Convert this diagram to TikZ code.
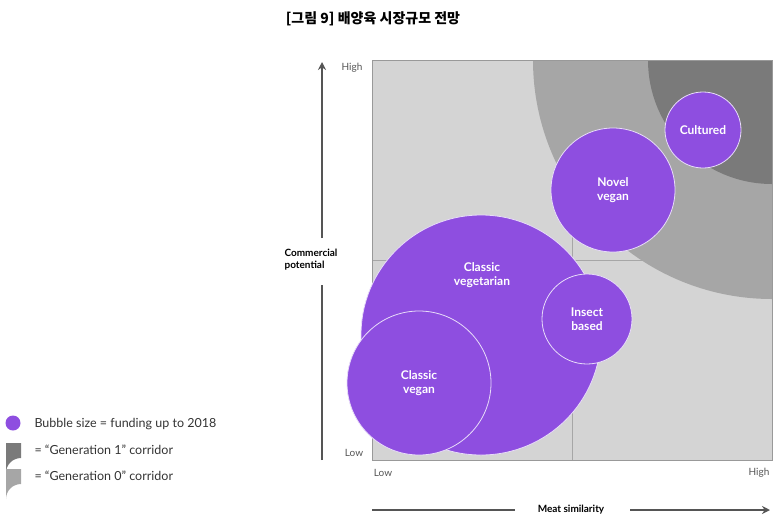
\documentclass[tikz,border=0pt]{standalone}
\usepackage{fontspec}
\setmainfont{Lato}
\newfontfamily\kr{Noto Sans CJK KR}
\usetikzlibrary{arrows.meta}
\definecolor{purp}{HTML}{8E4EE0}
\definecolor{bg}{HTML}{D4D4D4}
\definecolor{gzero}{HTML}{A6A6A6}
\definecolor{gone}{HTML}{7A7A7A}
\definecolor{axis}{HTML}{555555}
\begin{document}
\begin{tikzpicture}[x=1pt,y=-1pt,
  bub/.style={circle,fill=purp,draw=white!80!purp,line width=0.8pt,inner sep=0pt,minimum size=#1,align=center,text=white,font=\bfseries\fontsize{12}{14}\selectfont},
  tick/.style={text=axis,font=\fontsize{10}{12}\selectfont},
  arr/.style={axis,line width=1.6pt,-{Stealth[length=8pt,width=8pt]}},
  leg/.style={anchor=west,font=\fontsize{12.5}{14}\selectfont,text=black!80}]
\useasboundingbox (0,0) rectangle (781,523);
\node[font=\kr\bfseries\fontsize{14}{16}\selectfont] (title) at (373,19) {[그림 9] 배양육 시장규모 전망};
% plot background
\begin{scope}
\clip (372,60) rectangle (772,460);
\fill[bg] (372,60) rectangle (772,460);
\draw[gray!70,line width=0.6pt] (572,60) -- (572,460) (372,260) -- (772,260);
\fill[gzero] (772,60) circle[radius=239];
\fill[gone] (772,60) circle[radius=124];
\end{scope}
\draw[gray!80,line width=0.6pt] (372,60) rectangle (772,460);
% bubbles
\node[bub=240] (cveg) at (481,335) {};
\node[font=\bfseries\fontsize{12}{14}\selectfont,text=white,align=center] (cvegt) at (482,275) {Classic\\vegetarian};
\node[bub=144] (cvgn) at (419,383) {Classic\\vegan};
\node[bub=90] (ins) at (587,319) {Insect\\based};
\node[bub=124] (nov) at (613,190) {Novel\\vegan};
\node[bub=76] (cul) at (703,130) {Cultured};
% axes
\coordinate (ybot) at (322,460);
\coordinate (ytop) at (322,62);
\node[font=\bfseries\fontsize{10}{12}\selectfont,align=left] (ylab) at (311,260) {Commercial\\potential};
\draw[axis,line width=1.6pt] (ybot) -- (322,285);
\draw[arr] (322,238) -- (ytop);
\node[tick] (yhigh) at (352,68) {High};
\node[tick] (ylow) at (354,453) {Low};
\node[tick] (xlow) at (383,473) {Low};
\node[tick] (xhigh) at (759,473) {High};
\node[font=\bfseries\fontsize{10}{12}\selectfont] (xlab) at (571,510) {Meat similarity};
\draw[axis,line width=1.6pt] (372,510) -- (515,510);
\draw[arr] (630,510) -- (770,510);
% legend
\fill[purp] (13,423) circle[radius=7.5];
\fill[gone] (6,443) -- (21,443) -- (21,458) arc[start angle=-90,end angle=-180,radius=15] -- cycle;
\fill[gzero] (6,469) -- (21,469) -- (21,484) arc[start angle=-90,end angle=-180,radius=15] -- cycle;
\node[leg] (l1) at (31,424) {Bubble size = funding up to 2018};
\node[leg] (l2) at (31,450) {= “Generation 1” corridor};
\node[leg] (l3) at (31,476) {= “Generation 0” corridor};
\end{tikzpicture}
\end{document}
